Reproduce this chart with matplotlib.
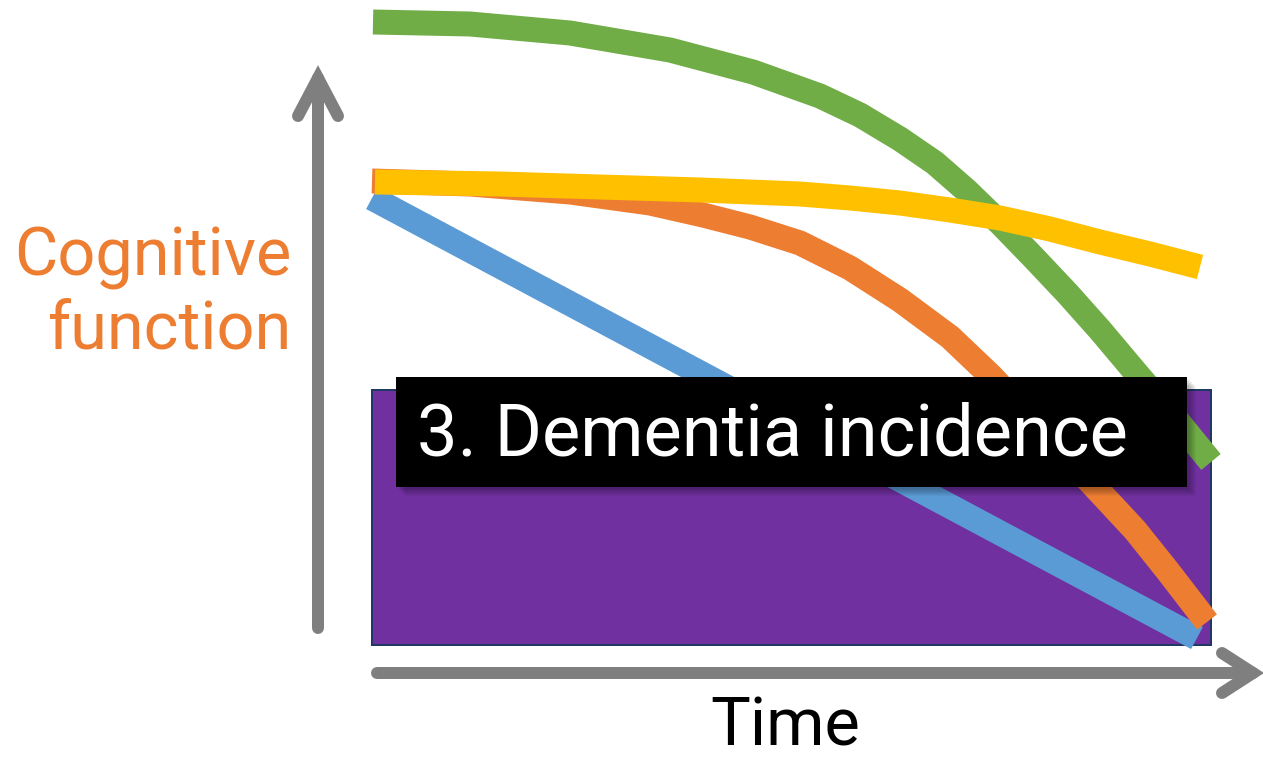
import numpy as np
import matplotlib.pyplot as plt
from matplotlib.patches import Rectangle

# canvas units are pixels, y grows downward
W, H = 1263, 758

# trajectories of cognitive function over time (x = time, y = level on canvas)
green_x = [373, 470, 570, 670, 753, 820, 860, 900, 935, 967, 1000, 1033, 1067, 1100, 1137, 1175, 1211]
green_y = [22, 24, 33, 50, 72, 96, 115, 139, 163, 191, 223, 257, 293, 330, 374, 418, 462]

orange_x = [372, 470, 570, 650, 703, 750, 800, 850, 900, 950, 991, 1040, 1095, 1135, 1167, 1207]
orange_y = [181, 184, 192, 203, 215, 227, 243, 268, 300, 337, 376, 428, 487, 530, 570, 622]

yellow_x = [375, 500, 600, 700, 800, 850, 900, 950, 1000, 1050, 1100, 1150, 1200]
yellow_y = [182, 184, 187, 190, 194, 198, 203, 210, 218, 229, 242, 254, 267]

blue_x = [372, 1197]
blue_y = [198, 638]

# dementia region and label box (left, top, right, bottom)
region = [372, 390, 1211, 645]
label_box = [396, 377, 1187, 487]

GRAY = '#7f7f7f'
FONT = 'Roboto'
px = 72 / 100  # pixels -> points

fig = plt.figure(figsize=(W / 100, H / 100), dpi=100)
ax = fig.add_axes([0, 0, 1, 1])
ax.set_xlim(0, W)
ax.set_ylim(H, 0)
ax.axis('off')

# purple dementia region
ax.add_patch(Rectangle((region[0], region[1]), region[2] - region[0], region[3] - region[1],
                       facecolor='#7030a0', edgecolor='#1f3864', linewidth=2 * px, zorder=1))

lw = 25 * px
kw = dict(lw=lw, solid_capstyle='butt', solid_joinstyle='round')
ax.plot(green_x, green_y, color='#70ad47', zorder=2, **kw)
ax.plot(blue_x, blue_y, color='#5b9bd5', zorder=3, **kw)
ax.plot(orange_x, orange_y, color='#ed7d31', zorder=4, **kw)
ax.plot(yellow_x, yellow_y, color='#ffc000', zorder=5, **kw)

# soft shadow under the label box
for i in range(8):
    off = 2 + i
    ax.add_patch(Rectangle((label_box[0] + off, label_box[1] + off),
                           label_box[2] - label_box[0], label_box[3] - label_box[1],
                           facecolor='black', edgecolor='none', alpha=0.04, zorder=6))
ax.add_patch(Rectangle((label_box[0], label_box[1]), label_box[2] - label_box[0],
                       label_box[3] - label_box[1], facecolor='black', edgecolor='none', zorder=7))
ax.text(417, 456, '3. Dementia incidence', color='white', fontsize=52, family=FONT,
        ha='left', va='baseline', zorder=8)

# axes arrows
alw = 12 * px
ax.plot([318, 318], [628, 78], color=GRAY, lw=alw, solid_capstyle='round', zorder=2)
ax.plot([298, 318, 338], [116, 78, 116], color=GRAY, lw=alw, solid_capstyle='round',
        solid_joinstyle='miter', zorder=2)
ax.plot([377, 1253], [673, 673], color=GRAY, lw=alw, solid_capstyle='round', zorder=2)
ax.plot([1222, 1253, 1222], [653, 673, 693], color=GRAY, lw=alw, solid_capstyle='round',
        solid_joinstyle='miter', zorder=2)

ax.text(291, 275, 'Cognitive', color='#ed7d31', fontsize=48, family=FONT,
        ha='right', va='baseline')
ax.text(291, 350, 'function', color='#ed7d31', fontsize=48, family=FONT,
        ha='right', va='baseline')
ax.text(785, 746, 'Time', color='black', fontsize=48, family=FONT,
        ha='center', va='baseline')

fig.savefig('out.png', dpi=100)
